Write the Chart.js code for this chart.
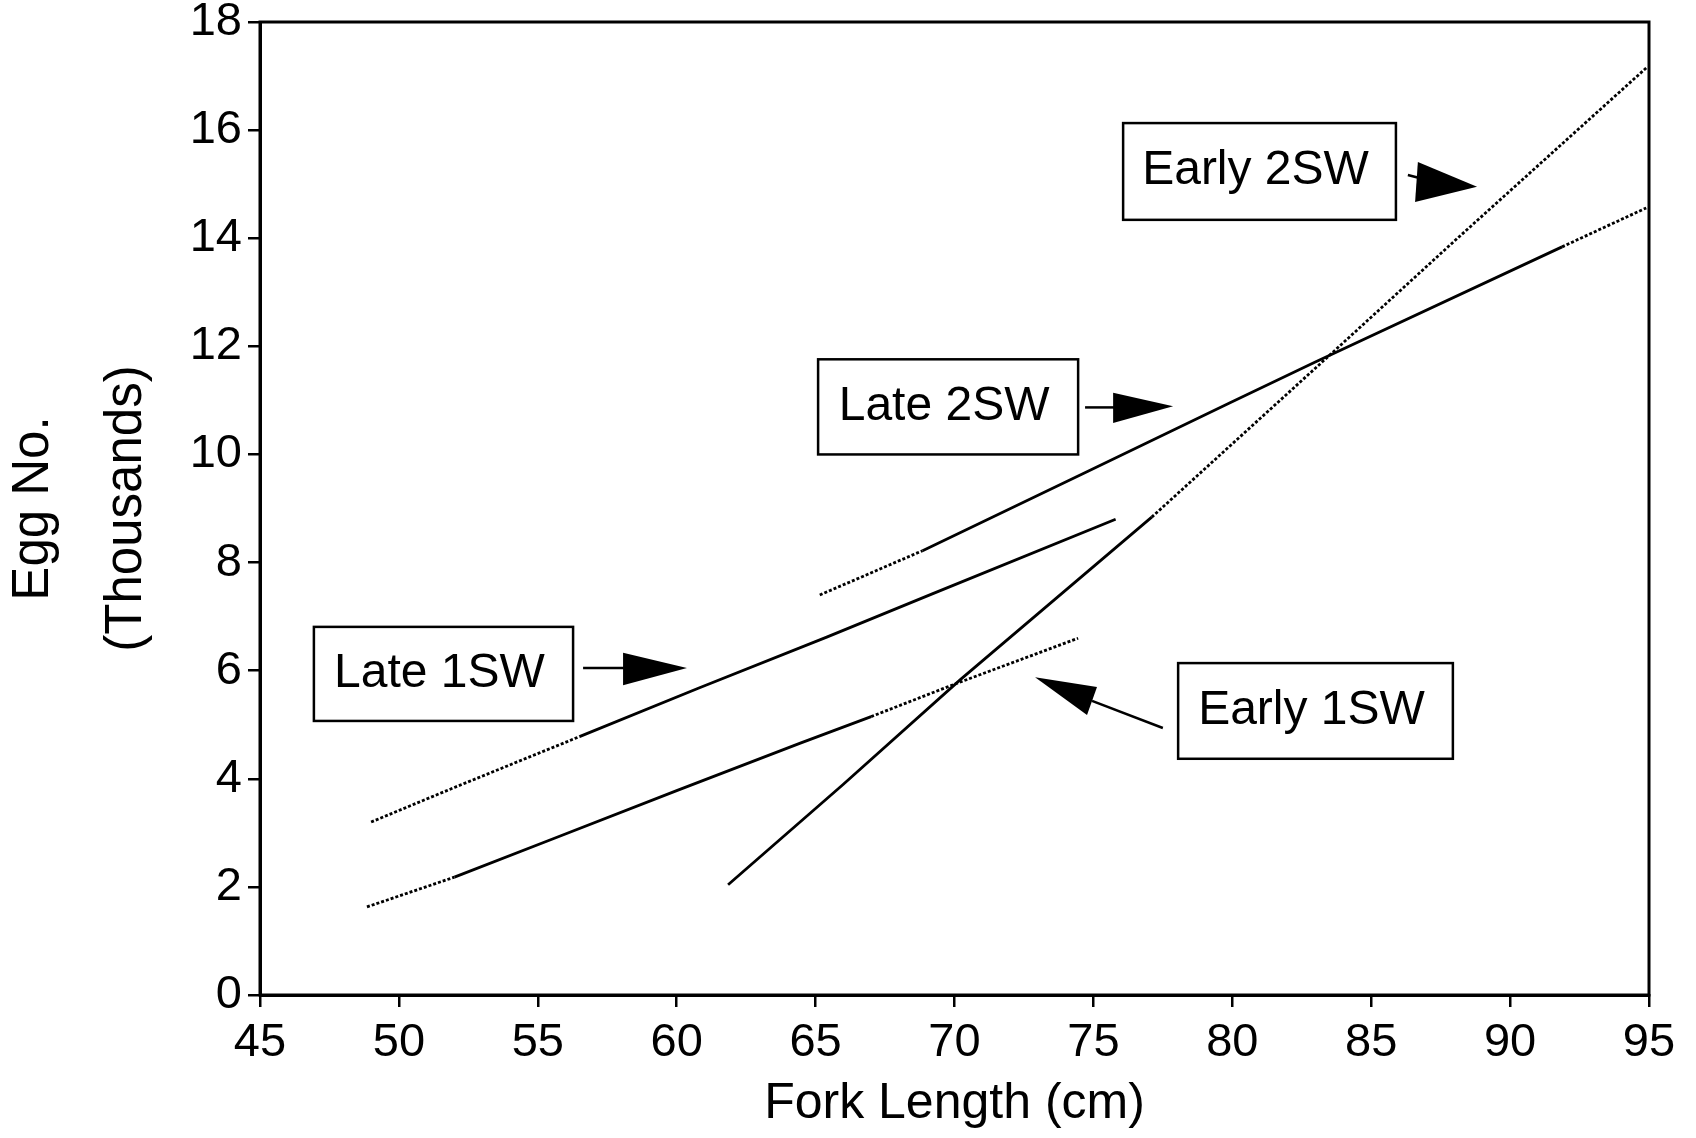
<!DOCTYPE html>
<html>
<head>
<meta charset="utf-8">
<script src="https://cdn.jsdelivr.net/npm/chart.js@4.4.1/dist/chart.umd.min.js"></script>
<style>
  html, body { margin: 0; padding: 0; background: #fff; }
  #wrap { width: 1696px; height: 1138px; position: relative; }
</style>
</head>
<body>
<div id="wrap"><canvas id="c"></canvas></div>
<script>
// Egg number vs fork length — four fitted curves, dotted where extrapolated
const X_TICKS = { min: 45, max: 95, step: 5 };
const Y_TICKS = { min: 0, max: 18, step: 2 };

// Late 1SW
const LATE1_X = [49.0, 52.0, 56.5, 60.8, 65.4, 69.2, 75.8];
const LATE1_Y = [3.2, 3.84, 4.78, 5.68, 6.62, 7.42, 8.8];
const LATE1_RANGE = [56.5, 75.8];
// Early 1SW
const EARLY1_X = [48.85, 52.0, 55.6, 60.0, 64.45, 67.0, 70.0, 74.45];
const EARLY1_Y = [1.63, 2.18, 2.9, 3.78, 4.66, 5.15, 5.75, 6.6];
const EARLY1_RANGE = [52.0, 67.0];
// Early 2SW
const EARLY2_X = [61.85, 66.0, 70.2, 77.1, 83.0, 88.0, 94.9];
const EARLY2_Y = [2.04, 3.9, 5.83, 8.84, 11.6, 13.95, 17.15];
const EARLY2_RANGE = [61.85, 77.1];
// Late 2SW
const LATE2_X = [65.15, 68.85, 74.6, 79.9, 82.95, 91.87, 94.9];
const LATE2_Y = [7.4, 8.22, 9.64, 10.95, 11.7, 13.84, 14.56];
const LATE2_RANGE = [68.85, 91.87];

// label boxes + arrows, in data units
const NOTES = [
  { text: 'Late 1SW', box: [46.94, 56.27, 5.07, 6.81],
    shaft: [[56.63, 6.05], [58.1, 6.05]], head: [[60.37, 6.05], [58.07, 6.33], [58.07, 5.73]] },
  { text: 'Late 2SW', box: [65.09, 74.45, 10.0, 11.76],
    shaft: [[74.7, 10.87], [75.75, 10.87]], head: [[77.87, 10.89], [75.71, 11.14], [75.71, 10.58]] },
  { text: 'Early 2SW', box: [76.07, 85.89, 14.34, 16.13],
    shaft: [[86.32, 15.17], [86.7, 15.12]], head: [[88.81, 14.95], [86.68, 15.41], [86.58, 14.67]] },
  { text: 'Early 1SW', box: [78.05, 87.94, 4.37, 6.14],
    shaft: [[77.5, 4.94], [74.95, 5.44]], head: [[72.9, 5.88], [75.13, 5.7], [74.77, 5.18]] },
];

const FONT = "'Liberation Sans', Arial, Helvetica, sans-serif";
Chart.defaults.font.family = FONT;
Chart.defaults.color = '#000';

const pts = (xs, ys) => xs.map((x, i) => ({ x, y: ys[i] }));
const DOTS = [3, 2];

function curve(xs, ys, range) {
  const [lo, hi] = range;
  return {
    data: pts(xs, ys),
    showLine: true, borderColor: '#000', borderWidth: 2.8,
    pointRadius: 0, pointHoverRadius: 0, tension: 0, fill: false,
    segment: {
      borderDash: (c) => (c.p1.parsed.x <= lo + 1e-6 || c.p0.parsed.x >= hi - 1e-6) ? DOTS : undefined,
    },
  };
}

const frame = {
  id: 'frame',
  afterDatasetsDraw(chart) {
    const { ctx, chartArea: a } = chart;
    ctx.save();
    ctx.strokeStyle = '#000';
    ctx.lineWidth = 3;
    ctx.strokeRect(a.left, a.top, a.right - a.left, a.bottom - a.top);
    ctx.restore();
  },
};

const notes = {
  id: 'notes',
  afterDatasetsDraw(chart) {
    const { ctx, scales } = chart;
    const px = (v) => scales.x.getPixelForValue(v);
    const py = (v) => scales.y.getPixelForValue(v);
    ctx.save();
    NOTES.forEach((n) => {
      const [x0, x1, y0, y1] = n.box;
      const l = px(x0), r = px(x1), t = py(y1), b = py(y0);
      ctx.fillStyle = '#fff';
      ctx.fillRect(l, t, r - l, b - t);
      ctx.strokeStyle = '#000';
      ctx.lineWidth = 2.5;
      ctx.strokeRect(l, t, r - l, b - t);
      ctx.fillStyle = '#000';
      ctx.font = '48px ' + FONT;
      ctx.textAlign = 'center';
      ctx.textBaseline = 'alphabetic';
      ctx.fillText(n.text, (l + r) / 2 - 4, (t + b) / 2 + 13);
      // arrow shaft
      ctx.lineWidth = 2.5;
      ctx.beginPath();
      ctx.moveTo(px(n.shaft[0][0]), py(n.shaft[0][1]));
      ctx.lineTo(px(n.shaft[1][0]), py(n.shaft[1][1]));
      ctx.stroke();
      // arrow head
      ctx.beginPath();
      n.head.forEach(([hx, hy], i) => (i ? ctx.lineTo(px(hx), py(hy)) : ctx.moveTo(px(hx), py(hy))));
      ctx.closePath();
      ctx.fill();
    });
    ctx.restore();
  },
};

new Chart(document.getElementById('c'), {
  type: 'scatter',
  data: {
    datasets: [
      curve(LATE1_X, LATE1_Y, LATE1_RANGE),
      curve(EARLY1_X, EARLY1_Y, EARLY1_RANGE),
      curve(EARLY2_X, EARLY2_Y, EARLY2_RANGE),
      curve(LATE2_X, LATE2_Y, LATE2_RANGE),
    ],
  },
  options: {
    responsive: true, maintainAspectRatio: false, animation: false,
    layout: { padding: { left: 0, right: 47, top: 22, bottom: 0 } },
    plugins: { legend: { display: false }, tooltip: { enabled: false } },
    scales: {
      x: {
        type: 'linear', min: X_TICKS.min, max: X_TICKS.max,
        afterFit: (s) => { s.height = 143; s.paddingLeft = 0; s.paddingRight = 0; },
        grid: { drawOnChartArea: false, drawTicks: true, tickLength: 12, color: '#000', lineWidth: 2.5 },
        border: { display: true, color: '#000', width: 3 },
        ticks: { stepSize: X_TICKS.step, color: '#000', font: { size: 47 }, padding: 8 },
        title: { display: true, text: 'Fork Length (cm)', color: '#000',
                 font: { size: 50 }, padding: { top: 0, bottom: 4 } },
      },
      y: {
        type: 'linear', min: Y_TICKS.min, max: Y_TICKS.max,
        afterFit: (s) => { s.width = 260; s.paddingTop = 0; s.paddingBottom = 0; },
        grid: { drawOnChartArea: false, drawTicks: true, tickLength: 12, color: '#000', lineWidth: 2.5 },
        border: { display: true, color: '#000', width: 3 },
        ticks: { stepSize: Y_TICKS.step, color: '#000', font: { size: 47 }, padding: 6 },
        title: { display: true, text: ['Egg No.', '(Thousands)'], color: '#000',
                 font: { size: 51, lineHeight: 1.82 }, padding: { top: -12, bottom: 0 } },
      },
    },
  },
  plugins: [frame, notes],
});
</script>
</body>
</html>
